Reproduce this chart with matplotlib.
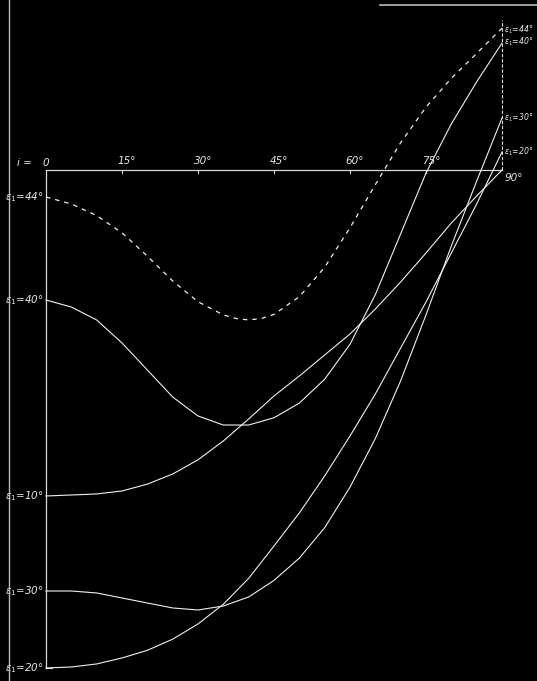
import matplotlib
matplotlib.use("Agg")
import matplotlib.pyplot as plt

# ---------------- data (i in degrees, ordinate in degree units; 0 = the i-axis) -------------
i_44 = [0, 5, 10, 15, 20, 25, 30, 35, 37.5, 40, 42.5, 45, 50, 55, 60, 65, 70, 75, 80, 85, 90]
v_44 = [-5.33, -6.7, -9.0, -12.4, -17.0, -21.9, -26.0, -28.6, -29.3, -29.6, -29.3, -28.5,
        -25.0, -19.2, -11.4, -2.9, 5.4, 12.4, 18.1, 23.0, 28.0]

i_40 = [0, 5, 10, 15, 20, 25, 30, 35, 40, 45, 50, 55, 60, 65, 70, 75, 80, 85, 90]
v_40 = [-25.66, -27.04, -29.6, -34.14, -39.47, -44.8, -48.55, -50.33, -50.33, -48.9, -46.0,
        -41.3, -34.4, -24.6, -12.6, -0.6, 9.1, 17.4, 25.06]

i_10 = [0, 5, 10, 15, 20, 25, 30, 35, 40, 45, 50, 55, 60, 65, 70, 75, 80, 85, 90]
v_10 = [-64.34, -64.14, -63.94, -63.35, -62.0, -60.0, -57.2, -53.48, -49.14, -44.6, -40.65,
        -36.51, -32.37, -27.44, -22.1, -16.38, -10.46, -5.13, 0.0]

i_30 = [0, 5, 10, 15, 20, 25, 30, 35, 40, 45, 50, 55, 60, 65, 70, 75, 80, 85, 90]
v_30 = [-83.09, -83.09, -83.48, -84.47, -85.46, -86.44, -86.84, -86.05, -84.27, -81.0, -76.6,
        -70.6, -62.6, -53.0, -41.6, -28.6, -15.0, -2.2, 10.26]

i_20 = [0, 5, 10, 15, 20, 25, 30, 35, 40, 45, 50, 55, 60, 65, 70, 75, 80, 85, 90]
v_20 = [-98.28, -98.09, -97.49, -96.31, -94.8, -92.6, -89.6, -85.7, -80.6, -74.2, -67.69,
        -60.39, -52.5, -44.21, -35.13, -26.05, -16.38, -6.71, 3.55]

curves = [("44", i_44, v_44, True), ("40", i_40, v_40, False), ("10", i_10, v_10, False),
          ("30", i_30, v_30, False), ("20", i_20, v_20, False)]

x_ticks = [15, 30, 45, 60, 75]
x_tick_labels = ["15°", "30°", "45°", "60°", "75°"]

# ---------------- layout ----------------
W, H = 537, 681
PX_PER_DEG = 456 / 90.0
X0, Y0 = 46, 170  # pixel position of i = 0 on the i-axis

def px(x, y):
    """pixel (from top-left) -> data coordinates"""
    return (x - X0) / PX_PER_DEG, (Y0 - y) / PX_PER_DEG

plt.rcParams['lines.scale_dashes'] = False
fig = plt.figure(figsize=(W / 100, H / 100), dpi=100, facecolor="black")
ax = fig.add_axes([0, 0, 1, 1], facecolor="black")
xl, yt = px(0, 0)
xr, yb = px(W, H)
ax.set_xlim(xl, xr)
ax.set_ylim(yb, yt)
ax.axis("off")

LC = "#f0f0f0"
AC = "#d8d8d8"

# axes of the diagram
ax.plot([0, 90], [0, 0], color=AC, lw=0.9)
ax.plot([0, 0], [0, min(v_20)], color=AC, lw=0.9)
ax.plot([0, 1.2], [min(v_20), min(v_20)], color=AC, lw=0.8)
ax.plot([90, 90], [0, px(0, 20)[1]], color=AC, lw=0.8, dashes=(2.5, 1.2))
for t in x_ticks:
    ax.plot([t, t], [0, -0.6], color=AC, lw=0.8)

# curves
for name, xs, ys, dashed in curves:
    if dashed:
        ax.plot(xs, ys, color=LC, lw=0.9, dashes=(3.2, 3.6), solid_joinstyle="round")
    else:
        ax.plot(xs, ys, color=LC, lw=0.8, solid_joinstyle="round")

# texts
tkw = dict(color="#e6e6e6", fontsize=7.5, style="italic", family="DejaVu Sans")
ax.text(*px(24, 163), "i =", ha="center", va="center", **tkw)
ax.text(*px(46, 163), "0", ha="center", va="center", **tkw)
for t, lab in zip(x_ticks, x_tick_labels):
    ax.text(t + 1.0, px(0, 161)[1], lab, ha="center", va="center", **tkw)
ax.text(*px(505, 178), "90°", ha="left", va="center", **tkw)

left_labels = [("44°", v_44[0]), ("40°", v_40[0]), ("10°", v_10[0]), ("30°", v_30[0]), ("20°", v_20[0])]
for lab, v in left_labels:
    ax.text(px(44, 0)[0], v, "ε$_1$=" + lab, ha="right", va="center", **tkw)

rkw = dict(tkw)
rkw["fontsize"] = 5.6
right_labels = [("44°", v_44[-1] - 0.3), ("40°", v_40[-1] + 0.3), ("30°", v_30[-1]), ("20°", v_20[-1])]
for lab, v in right_labels:
    ax.text(px(504, 0)[0], v, "ε$_1$=" + lab, ha="left", va="center", **rkw)

# scan edges
fig.add_artist(plt.Line2D([8.5 / W, 8.5 / W], [0, 1], color="#bbbbbb", lw=1.0))
fig.add_artist(plt.Line2D([380 / W, 1], [1 - 5 / H, 1 - 5 / H], color="#bbbbbb", lw=1.2))

fig.savefig("out.png", dpi=100, facecolor="black")
